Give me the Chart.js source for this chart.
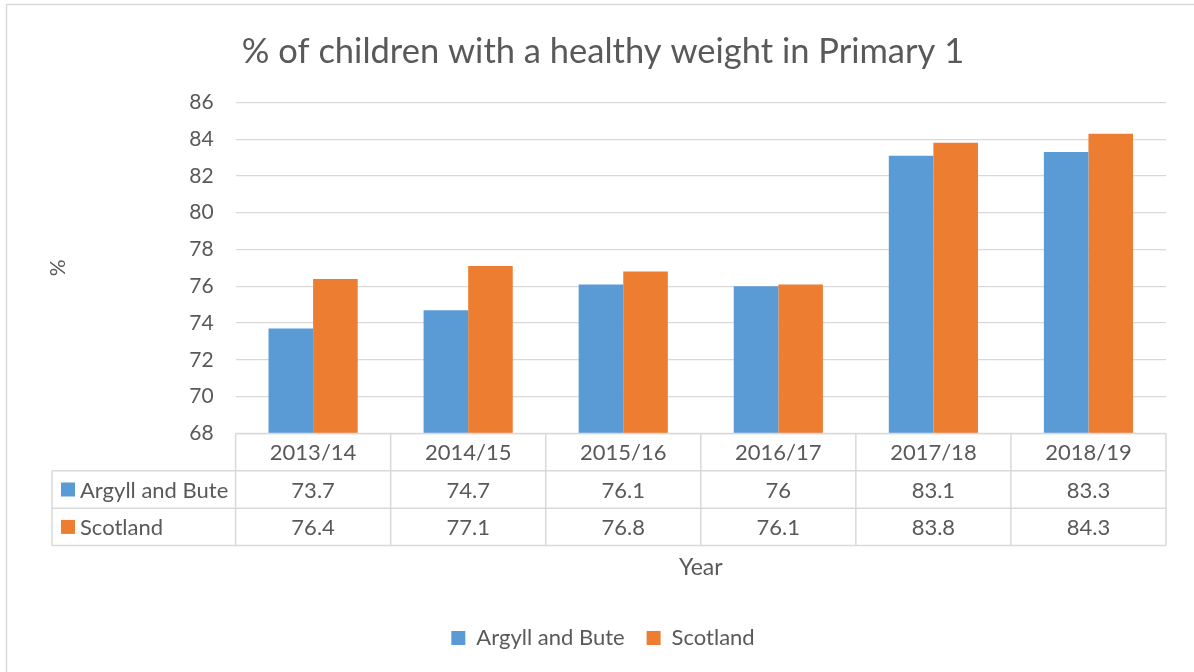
<!DOCTYPE html>
<html>
<head>
<meta charset="utf-8">
<script src="https://cdn.jsdelivr.net/npm/chart.js@4.4.1/dist/chart.umd.min.js"></script>
<style>
  html, body { margin: 0; padding: 0; background: #fff; }
  #wrap { width: 1194px; height: 672px; position: relative; }
</style>
</head>
<body>
<div id="wrap"><canvas id="chart"></canvas></div>
<script>
const years = ['2013/14', '2014/15', '2015/16', '2016/17', '2017/18', '2018/19'];
const argyllValues = [73.7, 74.7, 76.1, 76, 83.1, 83.3];
const scotlandValues = [76.4, 77.1, 76.8, 76.1, 83.8, 84.3];
const seriesNames = ['Argyll and Bute', 'Scotland'];
const yTicks = [68, 70, 72, 74, 76, 78, 80, 82, 84, 86];

const TEXT = '#595959';
const LINE = '#d9d9d9';
const FONT = 'Lato, "Open Sans", sans-serif';

// data table under the plot, drawn from the same arrays
const dataTablePlugin = {
    id: 'dataTable',
    afterDraw(chart) {
        const ctx = chart.ctx;
        const x = chart.scales.x;
        const area = chart.chartArea;
        const rowH = 37.4;
        const top = area.bottom;
        const leftCol = 52;
        const rows = [argyllValues, scotlandValues];
        const colors = chart.data.datasets.map(d => d.backgroundColor);
        const colW = (area.right - area.left) / years.length;

        ctx.save();
        ctx.strokeStyle = LINE;
        ctx.lineWidth = 1.5;
        ctx.beginPath();
        // horizontal lines
        ctx.moveTo(area.left, top); ctx.lineTo(area.right, top);
        for (let r = 1; r <= 3; r++) {
            ctx.moveTo(leftCol, top + r * rowH); ctx.lineTo(area.right, top + r * rowH);
        }
        // vertical lines
        ctx.moveTo(leftCol, top + rowH); ctx.lineTo(leftCol, top + 3 * rowH);
        for (let i = 0; i <= years.length; i++) {
            const px = area.left + i * colW;
            ctx.moveTo(px, top); ctx.lineTo(px, top + 3 * rowH);
        }
        ctx.stroke();

        ctx.fillStyle = TEXT;
        ctx.font = '22px ' + FONT;
        ctx.textAlign = 'center';
        ctx.textBaseline = 'middle';
        years.forEach((y, i) => {
            ctx.fillText(y, x.getPixelForValue(i), top + rowH / 2 + 1);
        });
        rows.forEach((vals, r) => {
            const cy = top + (r + 1.5) * rowH + 1;
            vals.forEach((v, i) => {
                ctx.fillStyle = TEXT;
                ctx.textAlign = 'center';
                ctx.fillText(String(v), x.getPixelForValue(i), cy);
            });
            ctx.fillStyle = colors[r];
            ctx.fillRect(61, cy - 8, 14, 14);
            ctx.fillStyle = TEXT;
            ctx.textAlign = 'left';
            ctx.fillText(seriesNames[r], 80, cy);
        });

        // outer chart frame (only left/top edges visible)
        ctx.strokeStyle = LINE;
        ctx.lineWidth = 1.5;
        ctx.strokeRect(6.5, 4.5, 1200, 700);
        ctx.restore();
    }
};

new Chart(document.getElementById('chart'), {
    type: 'bar',
    data: {
        labels: years,
        datasets: [
            { label: seriesNames[0], data: argyllValues, backgroundColor: '#5b9bd5' },
            { label: seriesNames[1], data: scotlandValues, backgroundColor: '#ed7d31' }
        ]
    },
    options: {
        responsive: true,
        maintainAspectRatio: false,
        animation: false,
        layout: { padding: { left: 40, right: 28, top: 9, bottom: 13 } },
        datasets: { bar: { categoryPercentage: 0.575, barPercentage: 1 } },
        plugins: {
            title: {
                display: true,
                text: '% of children with a healthy weight in Primary 1',
                color: TEXT,
                font: { family: FONT, size: 34.5, weight: 'normal' },
                padding: { top: 22, bottom: 30 }
            },
            legend: {
                position: 'bottom',
                labels: {
                    color: TEXT,
                    font: { family: FONT, size: 22 },
                    boxWidth: 14,
                    boxHeight: 14,
                    padding: 22
                }
            },
            tooltip: { enabled: false }
        },
        scales: {
            x: {
                grid: { display: false, drawTicks: false },
                border: { display: false },
                ticks: { display: false },
                title: {
                    display: true,
                    text: 'Year',
                    color: TEXT,
                    font: { family: FONT, size: 23 },
                    padding: { top: 120, bottom: 24 }
                }
            },
            y: {
                min: 68,
                max: 86,
                afterBuildTicks(scale) {
                    scale.ticks = yTicks.map(v => ({ value: v }));
                },
                grid: { color: LINE, lineWidth: 1.3, drawTicks: false },
                border: { display: false },
                ticks: {
                    color: TEXT,
                    font: { family: FONT, size: 21 },
                    padding: 22
                },
                title: {
                    display: true,
                    text: '%',
                    color: TEXT,
                    font: { family: FONT, size: 21 },
                    padding: { top: 6, bottom: 96 }
                }
            }
        }
    },
    plugins: [dataTablePlugin]
});
</script>
</body>
</html>
